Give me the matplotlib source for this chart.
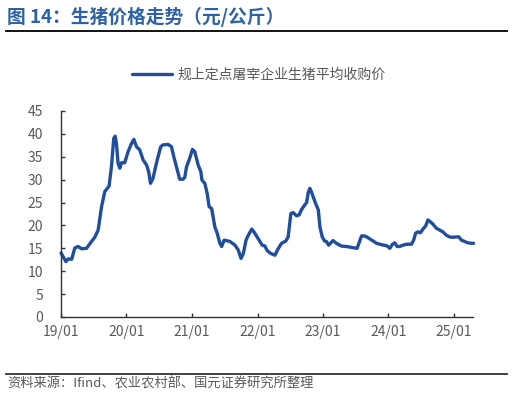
import numpy as np
import pandas as pd
import matplotlib
matplotlib.use('Agg')
import matplotlib.pyplot as plt

plt.rcParams['font.family'] = ['Noto Sans CJK SC', 'DejaVu Sans']

# 规上定点屠宰企业生猪平均收购价（元/公斤）
dates = ['2019-01-01', '2019-01-28', '2019-02-10', '2019-03-01', '2019-03-19', '2019-04-06',
         '2019-04-25', '2019-05-23', '2019-06-20', '2019-07-08', '2019-07-27', '2019-08-15',
         '2019-09-02', '2019-09-26', '2019-10-09', '2019-10-22', '2019-10-30', '2019-11-06',
         '2019-11-15', '2019-11-25', '2019-12-04', '2019-12-22', '2020-01-10', '2020-01-29',
         '2020-02-11', '2020-02-26', '2020-03-15', '2020-04-03', '2020-04-22', '2020-05-04',
         '2020-05-14', '2020-05-28', '2020-06-16', '2020-07-10', '2020-07-23', '2020-08-20',
         '2020-09-08', '2020-09-21', '2020-10-06', '2020-10-24', '2020-11-12', '2020-11-21',
         '2020-12-01', '2020-12-19', '2021-01-03', '2021-01-16', '2021-02-04', '2021-02-19',
         '2021-02-25', '2021-03-13', '2021-03-26', '2021-04-06', '2021-04-20', '2021-05-08',
         '2021-05-21', '2021-06-05', '2021-06-15', '2021-06-29', '2021-07-31', '2021-08-28',
         '2021-09-16', '2021-10-01', '2021-10-14', '2021-10-29', '2021-11-11', '2021-11-30',
         '2021-12-12', '2021-12-23', '2022-01-10', '2022-01-27', '2022-02-11', '2022-02-24',
         '2022-03-15', '2022-04-08', '2022-04-26', '2022-05-15', '2022-06-08', '2022-06-21',
         '2022-07-06', '2022-07-19', '2022-08-07', '2022-08-21', '2022-09-04', '2022-09-22',
         '2022-10-02', '2022-10-11', '2022-10-20', '2022-10-30', '2022-11-17', '2022-12-06',
         '2022-12-15', '2022-12-28', '2023-01-10', '2023-01-20', '2023-02-02', '2023-02-26',
         '2023-03-17', '2023-04-14', '2023-05-12', '2023-06-09', '2023-07-10', '2023-07-21',
         '2023-08-04', '2023-08-22', '2023-09-10', '2023-10-08', '2023-10-27', '2023-11-15',
         '2023-12-03', '2023-12-22', '2024-01-09', '2024-01-24', '2024-02-06', '2024-02-19',
         '2024-03-04', '2024-03-23', '2024-04-11', '2024-05-09', '2024-05-21', '2024-06-01',
         '2024-06-14', '2024-06-28', '2024-07-12', '2024-07-27', '2024-08-09', '2024-08-22',
         '2024-09-05', '2024-09-24', '2024-10-13', '2024-10-31', '2024-11-18', '2024-12-07',
         '2024-12-25', '2025-01-13', '2025-01-28', '2025-02-11', '2025-03-01', '2025-03-20',
         '2025-04-08', '2025-04-20']
price = [14.0, 12.1, 12.7, 12.6, 15.1, 15.4,
         14.9, 15.0, 16.5, 17.4, 19.0, 24.1,
         27.4, 28.6, 32.8, 39.0, 39.5, 37.9,
         33.6, 32.5, 33.7, 33.7, 36.1, 37.9,
         38.8, 37.2, 36.5, 34.3, 33.2, 31.7,
         29.2, 30.3, 33.6, 37.2, 37.6, 37.7,
         37.2, 35.0, 32.8, 30.1, 30.1, 30.5,
         32.8, 34.7, 36.6, 36.1, 33.2, 31.7,
         29.9, 29.2, 27.0, 24.1, 23.7, 19.7,
         18.3, 16.1, 15.4, 16.8, 16.5, 15.7,
         14.6, 12.8, 13.9, 16.8, 17.9, 19.2,
         18.6, 17.9, 16.8, 15.7, 15.5, 14.5,
         13.9, 13.5, 14.9, 16.1, 16.6, 17.5,
         22.6, 22.8, 22.1, 22.3, 23.5, 24.5,
         25.0, 27.2, 28.1, 27.2, 25.2, 23.4,
         19.7, 17.5, 16.6, 16.5, 15.7, 16.7,
         16.1, 15.5, 15.4, 15.2, 15.0, 16.1,
         17.7, 17.7, 17.3, 16.6, 16.1, 15.9,
         15.7, 15.6, 15.0, 15.9, 16.2, 15.4,
         15.4, 15.7, 15.9, 15.9, 16.8, 18.3,
         18.6, 18.4, 19.2, 19.9, 21.2, 20.8,
         20.3, 19.4, 19.0, 18.6, 17.9, 17.5,
         17.4, 17.5, 17.5, 16.8, 16.5, 16.2,
         16.1, 16.1]
series_name = '规上定点屠宰企业生猪平均收购价'
xtick_dates = ['2019-01-01', '2020-01-01', '2021-01-01', '2022-01-01',
               '2023-01-01', '2024-01-01', '2025-01-01']
xtick_labels = ['19/01', '20/01', '21/01', '22/01', '23/01', '24/01', '25/01']

dates = pd.to_datetime(dates)
gray = '#595959'

fig = plt.figure(figsize=(5.13, 4.03), dpi=100)
ax = fig.add_axes([0.119, 0.2134, 0.803, 0.5112])

ax.plot(dates, price, color='#1F4E9C', linewidth=2.4, solid_joinstyle='round',
        solid_capstyle='round', label=series_name, clip_on=False)

ax.set_ylim(0, 45)
ax.set_yticks(np.arange(0, 46, 5))
ax.set_xlim(pd.Timestamp('2019-01-01'), pd.Timestamp('2025-04-17'))
ax.set_xticks(pd.to_datetime(xtick_dates))
ax.set_xticklabels(xtick_labels)

for s in ['top', 'right']:
    ax.spines[s].set_visible(False)
for s in ['left', 'bottom']:
    ax.spines[s].set_color('#333333')
    ax.spines[s].set_linewidth(1.0)
ax.tick_params(axis='both', direction='in', length=3, width=1, color='#333333',
               labelcolor=gray, labelsize=10)
ax.tick_params(axis='x', pad=6)
ax.tick_params(axis='y', pad=13)

leg = ax.legend(loc='center', bbox_to_anchor=(0.48, 1.175), frameon=False,
                fontsize=10, handlelength=2.9, handletextpad=0.4)
for t in leg.get_texts():
    t.set_color(gray)

# 标题与分隔线
fig.text(0.014, 0.957, '图 14：生猪价格走势（元/公斤）', fontsize=13.5, fontweight='bold',
         color='#2E62A8', va='center', ha='left')
fig.add_artist(plt.Line2D([0.012, 0.988], [0.923, 0.923], color='black', linewidth=1.3))
fig.add_artist(plt.Line2D([0.012, 0.988], [0.072, 0.072], color='#333333', linewidth=1.3))
fig.text(0.014, 0.048, '资料来源：Ifind、农业农村部、国元证券研究所整理', fontsize=9.5,
         color=gray, va='center', ha='left')

plt.savefig('out.png', dpi=100)
